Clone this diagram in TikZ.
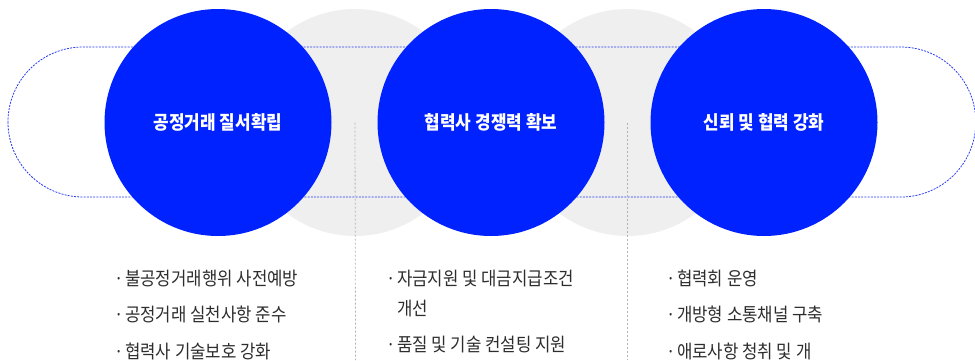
\documentclass[tikz,border=0pt]{standalone}
\usepackage{fontspec}
\setmainfont{Noto Sans CJK KR}[FakeStretch=0.9]
\usetikzlibrary{positioning}
\definecolor{KeyBlue}{RGB}{0,34,255}
\definecolor{SoftGray}{RGB}{239,239,239}
\definecolor{LineBlue}{RGB}{40,60,240}
\definecolor{TextGray}{RGB}{45,45,45}
\newcommand{\dotitem}{·\kern1.5pt}

\begin{document}
\begin{tikzpicture}[
    x=1pt, y=-1pt,
    keyc/.style={circle, fill=KeyBlue, minimum size=227pt, inner sep=0pt, text=white,
      font=\fontsize{18.8}{22}\selectfont\bfseries},
    softc/.style={circle, fill=SoftGray, minimum size=227pt, inner sep=0pt},
    dotline/.style={LineBlue, line width=0.8pt, dash pattern=on 2pt off 1.2pt},
    divline/.style={gray!60, line width=0.8pt, dash pattern=on 2pt off 2pt},
    itemtxt/.style={anchor=north west, inner sep=0pt, align=left, text=TextGray,
      font=\fontsize{18.6}{30}\selectfont}
  ]
    \clip (0,0) rectangle (975,360);
    % background circles between the key circles
    \node[softc] (gapL) at (355,122.5) {};
    \node[softc] (gapR) at (627.5,122.5) {};

    \draw[dotline, rounded corners=75pt] (8,47) rectangle (975.8,197);

    \node[keyc] (fair) at (218,122.5) {공정거래 질서확립};
    \node[keyc] (comp) at (491,122.5) {협력사 경쟁력 확보};
    \node[keyc] (trust) at (764,122.5) {신뢰 및 협력 강화};

    % dividers
    \coordinate (divLend) at (355.5,360);
    \coordinate (divRend) at (627.5,360);
    \draw[divline] (gapL.center) -- (divLend);
    \draw[divline] (gapR.center) -- (divRend);

    \node[itemtxt] (fairlist) at (114,269.5) {\dotitem 불공정거래행위 사전예방\\[6.5pt]
      \dotitem 공정거래 실천사항 준수\\[6.5pt]
      \dotitem 협력사 기술보호 강화};
    \node[itemtxt] (complist) at (386,269.5) {\dotitem 자금지원 및 대금지급조건\\
      \phantom{\dotitem}개선\\[6.5pt]
      \dotitem 품질 및 기술 컨설팅 지원};
    \node[itemtxt] (trustlist) at (666,269.5) {\dotitem 협력회 운영\\[6.5pt]
      \dotitem 개방형 소통채널 구축\\[6.5pt]
      \dotitem 애로사항 청취 및 개};
  \end{tikzpicture}
\end{document}
